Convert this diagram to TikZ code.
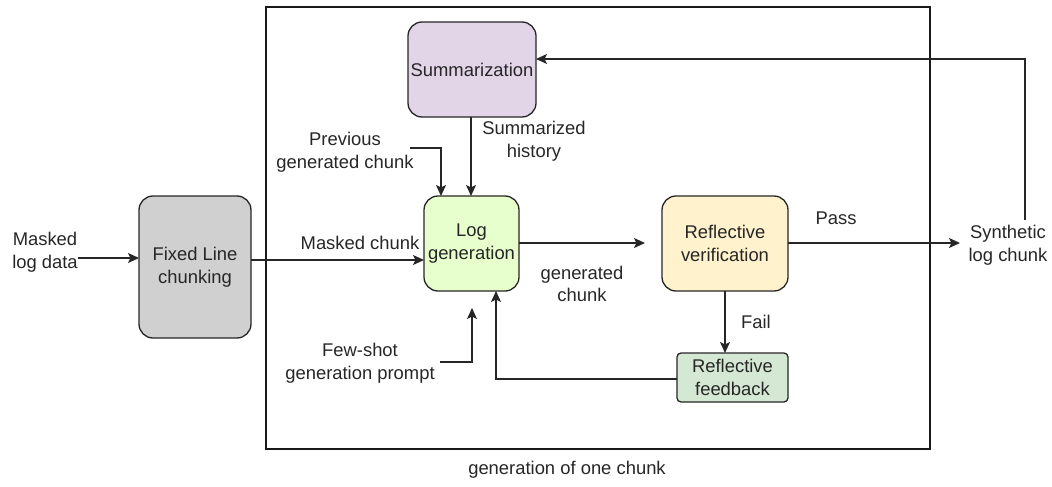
\documentclass[tikz,border=0pt]{standalone}
\usepackage{fontspec}
\setmainfont{Liberation Sans}
\usetikzlibrary{arrows.meta,calc}
\begin{document}
\begin{tikzpicture}[x=1pt,y=-1pt,
  every node/.style={font=\fontsize{18.4}{22.5}\selectfont, text=black!85, align=center, inner sep=0pt},
  box/.style={draw=black!85, line width=1.3pt, rounded corners=14pt},
  conn/.style={draw=black!85, line width=1.3pt, -{Stealth[length=11pt,width=10pt,inset=2.5pt]}},
  plain/.style={draw=black!85, line width=1.3pt}]
\useasboundingbox (0,0) rectangle (1052,487);
% frame
\draw[line width=1.3pt, draw=black!90] (266,7) rectangle (930,449);
\node (cap) at (567,470) {generation of one chunk};
% boxes
\path[box, fill={rgb,255:red,208;green,208;blue,208}] (139,196) rectangle (251,338);
\node (flc) at (195,267) {Fixed Line\\chunking};
\path[box, fill={rgb,255:red,225;green,213;blue,231}] (408,22) rectangle (536,117);
\node (sum) at (472,70) {Summarization};
\path[box, fill={rgb,255:red,230;green,255;blue,204}] (424,196) rectangle (519,291);
\node (lg) at (471.5,243.5) {Log\\generation};
\path[box, fill={rgb,255:red,255;green,242;blue,204}] (662,196) rectangle (788,291);
\node (rv) at (725,243.5) {Reflective\\verification};
\path[box, rounded corners=4pt, fill={rgb,255:red,213;green,232;blue,212}] (677,353) rectangle (788,402);
\node (rf) at (732.5,377.5) {Reflective\\feedback};
% named anchors of boxes
\coordinate (flcE) at (251,260);
\coordinate (flcW) at (139,258);
\coordinate (sumE) at (536,59);
\coordinate (sumS) at (471,117);
\coordinate (lgN1) at (441,196);
\coordinate (lgN2) at (471,196);
\coordinate (lgW) at (424,260);
\coordinate (lgE) at (519,243);
\coordinate (lgS1) at (472,308);
\coordinate (lgS2) at (496,291);
\coordinate (rvW) at (645,243);
\coordinate (rvE) at (788,243);
\coordinate (rvS) at (725,291);
\coordinate (rfN) at (725,353);
\coordinate (rfW) at (677,379);
% labels
\node (mld) at (45,252) {Masked\\log data};
\coordinate (mldE) at (78,258);
\node (mc) at (360,243) {Masked chunk};
\node (pgc) at (345,152) {Previous\\generated chunk};
\coordinate (pgcE) at (410,148);
\node (sh) at (534,141) {Summarized\\history};
\node (gc) at (582,284) {generated\\chunk};
\node (fsp) at (360,363) {Few-shot\\generation prompt};
\coordinate (fspE) at (440,362);
\node (pass) at (836,218) {Pass};
\node (fail) at (756,322) {Fail};
\node (slc) at (1008,245) {Synthetic\\log chunk};
\coordinate (slcN) at (1025,220);
\coordinate (slcW) at (960,243);
% connectors
\draw[conn] (mldE) -- (flcW);
\draw[conn] (flcE) -- (lgW);
\draw[conn] (sumS) -- (lgN2);
\draw[conn] (pgcE) -| (lgN1);
\draw[conn] (fspE) -| (lgS1);
\draw[conn] (lgE) -- (rvW);
\draw[conn] (rvE) -- (slcW);
\draw[conn] (rvS) -- (rfN);
\draw[conn] (rfW) -| (lgS2);
\draw[conn] (slcN) |- (sumE);
\end{tikzpicture}
\end{document}
